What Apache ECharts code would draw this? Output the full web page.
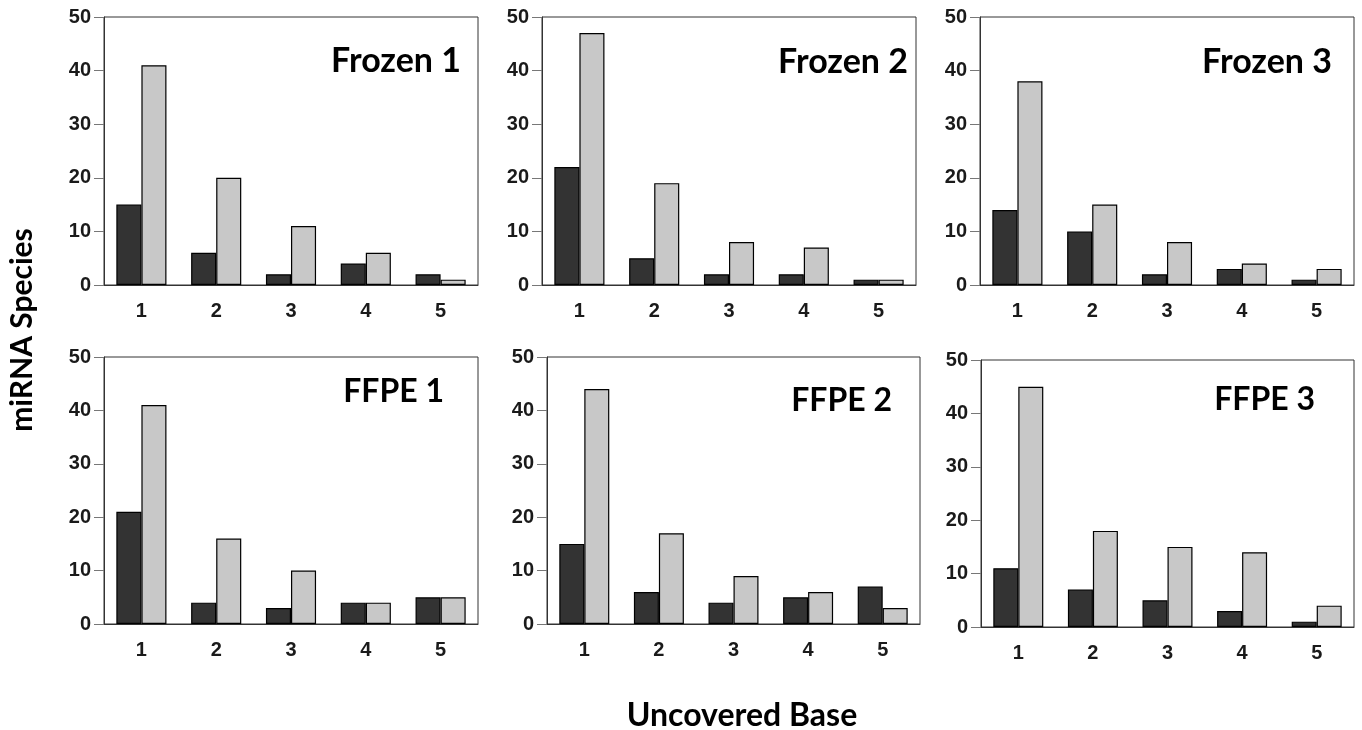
<!DOCTYPE html>
<html>
<head>
<meta charset="utf-8">
<script src="https://cdn.jsdelivr.net/npm/echarts@6/dist/echarts.min.js"></script>
<style>
html,body{margin:0;padding:0;background:#fff;}
#chart{width:1362px;height:730px;}
</style>
</head>
<body>
<div id="chart"></div>
<script>
const categories = ['1', '2', '3', '4', '5'];
const yTicks = [0, 10, 20, 30, 40, 50];
const panelNames = ['Frozen 1', 'Frozen 2', 'Frozen 3', 'FFPE 1', 'FFPE 2', 'FFPE 3'];

const frozen1Dark = [15, 6, 2, 4, 2];
const frozen1Light = [41, 20, 11, 6, 1];
const frozen2Dark = [22, 5, 2, 2, 1];
const frozen2Light = [47, 19, 8, 7, 1];
const frozen3Dark = [14, 10, 2, 3, 1];
const frozen3Light = [38, 15, 8, 4, 3];
const ffpe1Dark = [21, 4, 3, 4, 5];
const ffpe1Light = [41, 16, 10, 4, 5];
const ffpe2Dark = [15, 6, 4, 5, 7];
const ffpe2Light = [44, 17, 9, 6, 3];
const ffpe3Dark = [11, 7, 5, 3, 1];
const ffpe3Light = [45, 18, 15, 14, 4];

const darkSeries = [frozen1Dark, frozen2Dark, frozen3Dark, ffpe1Dark, ffpe2Dark, ffpe3Dark];
const lightSeries = [frozen1Light, frozen2Light, frozen3Light, ffpe1Light, ffpe2Light, ffpe3Light];

// layout (px)
const grids = [
  {left: 104, top: 17, width: 374, height: 268},
  {left: 542, top: 17, width: 374, height: 268},
  {left: 980, top: 17, width: 374, height: 268},
  {left: 104, top: 357, width: 374, height: 267},
  {left: 547, top: 357, width: 373, height: 267},
  {left: 981, top: 360, width: 373, height: 267}
];
const titlePos = [
  {x: 461, y: 44, s: 34}, {x: 908, y: 45, s: 34}, {x: 1332, y: 45, s: 34},
  {x: 444, y: 376, s: 32}, {x: 892, y: 385, s: 32}, {x: 1315, y: 384, s: 32}
];

const tickFont = 'Liberation Sans, Arial, sans-serif';
const labelFont = 'Lato, "Open Sans", sans-serif';

const option = {
  animation: false,
  backgroundColor: '#fff',
  grid: grids.map(g => Object.assign({show: true, borderColor: '#333', borderWidth: 1, backgroundColor: 'transparent', containLabel: false}, g)),
  xAxis: grids.map((g, i) => ({
    type: 'category', gridIndex: i, data: categories,
    axisLine: {lineStyle: {color: '#333', width: 1}},
    axisTick: {show: false},
    axisLabel: {fontFamily: tickFont, fontSize: 20, fontWeight: 'bold', color: '#1a1a1a', margin: 16}
  })),
  yAxis: grids.map((g, i) => ({
    type: 'value', gridIndex: i, min: yTicks[0], max: yTicks[yTicks.length - 1], interval: 10,
    splitLine: {show: false},
    axisLine: {show: true, lineStyle: {color: '#333', width: 1}},
    axisTick: {show: true, length: 10, lineStyle: {color: '#777'}},
    axisLabel: {fontFamily: tickFont, fontSize: 20, fontWeight: 'bold', color: '#1a1a1a', margin: 13}
  })),
  series: [],
  graphic: []
};

for (let i = 0; i < 6; i++) {
  option.series.push({
    type: 'bar', xAxisIndex: i, yAxisIndex: i, data: darkSeries[i],
    barGap: '0%', barCategoryGap: '33%',
    itemStyle: {color: '#333333', borderColor: '#000', borderWidth: 1.2}
  });
  option.series.push({
    type: 'bar', xAxisIndex: i, yAxisIndex: i, data: lightSeries[i],
    barGap: '0%', barCategoryGap: '33%',
    itemStyle: {color: '#c8c8c8', borderColor: '#000', borderWidth: 1.2}
  });
  option.graphic.push({
    type: 'text', x: titlePos[i].x, y: titlePos[i].y,
    style: {text: panelNames[i], font: 'bold ' + titlePos[i].s + 'px ' + labelFont, fill: '#000', textAlign: 'right', textVerticalAlign: 'top'}
  });
}

option.graphic.push({
  type: 'text', x: 22, y: 330, rotation: Math.PI / 2,
  style: {text: 'miRNA Species', font: 'bold 30px ' + labelFont, fill: '#000', textAlign: 'center', textVerticalAlign: 'middle'}
});
option.graphic.push({
  type: 'text', x: 742, y: 716,
  style: {text: 'Uncovered Base', font: 'bold 32px ' + labelFont, fill: '#000', textAlign: 'center', textVerticalAlign: 'middle'}
});

const chart = echarts.init(document.getElementById('chart'), null, {renderer: 'canvas'});
chart.setOption(option);
</script>
</body>
</html>
